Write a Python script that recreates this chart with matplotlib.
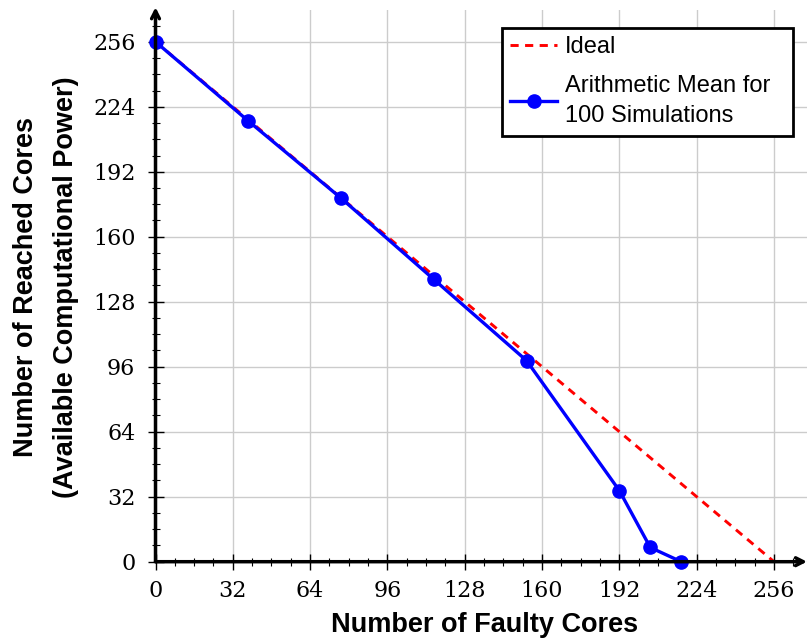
import matplotlib
matplotlib.use("Agg")
import matplotlib.pyplot as plt
from matplotlib.ticker import MultipleLocator

# Faulty cores vs. reachable cores
faulty_cores = [0, 38.4, 76.8, 115.2, 153.6, 192, 204.8, 217.6]
reached_mean = [256, 217, 179, 139, 99, 35, 7, 0]
ideal_x = [0, 256]
ideal_y = [256, 0]
tick_values = [0, 32, 64, 96, 128, 160, 192, 224, 256]

W, H = 807, 642
x0_px, y0_px = 155.5, 561.7
sx, sy = 2.416, 2.031

fig = plt.figure(figsize=(W / 100, H / 100), dpi=100)
ax = fig.add_axes([x0_px / W, (H - y0_px) / H, (W - x0_px) / W, (y0_px - 10) / H])

xmax = (W - x0_px) / sx
ymax = (y0_px - 10) / sy
ax.set_xlim(0, xmax)
ax.set_ylim(0, ymax)

ax.grid(True, which="major", color="#cccccc", linewidth=1.0)
ax.set_axisbelow(True)

ax.plot(ideal_x, ideal_y, color="red", linestyle=(0, (2.8, 2.2)), linewidth=2.1,
        label="Ideal", zorder=3)
ax.plot(faulty_cores, reached_mean, color="blue", linewidth=2.4, marker="o",
        markersize=9.5, label="Arithmetic Mean for\n100 Simulations", zorder=4,
        clip_on=False)

for s in ax.spines.values():
    s.set_visible(False)

# axis lines with arrow heads
arrow = dict(arrowstyle="->,head_length=0.55,head_width=0.28",
             color="black", lw=2.5, shrinkA=0, shrinkB=0)
ax.annotate("", xy=(1.0, 0), xycoords=("axes fraction", "data"),
            xytext=(0, 0), textcoords="data", arrowprops=arrow, zorder=5)
ax.annotate("", xy=(0, 1.005), xycoords=("data", "axes fraction"),
            xytext=(0, 0), textcoords="data", arrowprops=arrow, zorder=5)

ax.set_xticks(tick_values)
ax.set_yticks(tick_values)
ax.xaxis.set_minor_locator(MultipleLocator(8))
ax.yaxis.set_minor_locator(MultipleLocator(8))
ax.tick_params(which="major", direction="inout", length=11, width=1.0, color="black")
ax.tick_params(which="minor", direction="inout", length=6, width=0.8, color="black")
ax.tick_params(labelsize=16)
for lab in ax.get_xticklabels() + ax.get_yticklabels():
    lab.set_family("DejaVu Serif")
ax.tick_params(axis="x", pad=8)
ax.tick_params(axis="y", pad=9)

ax.set_xlabel("Number of Faulty Cores", fontsize=19.5, fontweight="bold",
              family="Liberation Sans")
ax.xaxis.label.set_va("center")
ax.xaxis.set_label_coords((485 - x0_px) / (W - x0_px), -(625 - y0_px) / (y0_px - 10))

ax.set_ylabel("Number of Reached Cores\n(Available Computational Power)",
              fontsize=19.5, fontweight="bold", family="Liberation Sans",
              linespacing=1.7)
ax.yaxis.label.set_va("center")
ax.yaxis.set_label_coords(-(x0_px - 46) / (W - x0_px), (y0_px - 287) / (y0_px - 10))

# legend box spanning a fixed width in the upper right
lx0 = (502 - x0_px) / (W - x0_px)
lx1 = (793 - x0_px) / (W - x0_px)
ly1 = (y0_px - 28) / (y0_px - 10)
leg = ax.legend(loc="upper left", bbox_to_anchor=(lx0, ly1, lx1 - lx0, 0.0),
                mode="expand",
                prop={"family": "Liberation Sans", "size": 17},
                frameon=True, fancybox=False, framealpha=1, edgecolor="black",
                handlelength=2.0, handletextpad=0.3, borderpad=0.35,
                labelspacing=0.7, borderaxespad=0)
leg.get_frame().set_linewidth(2.0)
for t in leg.get_texts():
    t.set_linespacing(1.5)

fig.savefig("out.png", dpi=100)
